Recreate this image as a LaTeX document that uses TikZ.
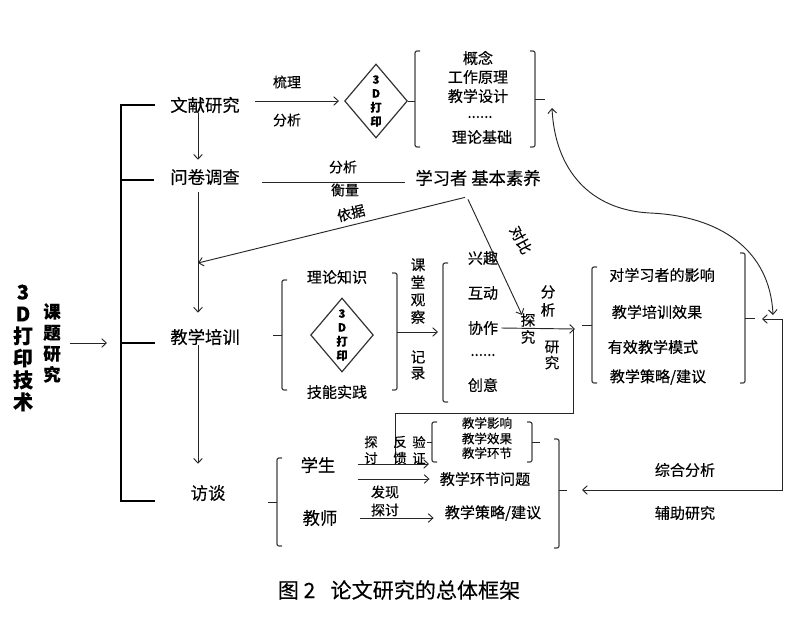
\documentclass[tikz,border=0pt]{standalone}
\usepackage{fontspec}
\setmainfont{Noto Sans CJK SC}[FakeBold=0.25]
\usetikzlibrary{arrows.meta,shapes.geometric,calc}
\newcommand\fsz[2]{\fontsize{#1pt}{#2pt}\selectfont}
\begin{document}
\begin{tikzpicture}[x=0.75pt,y=-0.75pt,
  main/.style={font=\fsz{13}{15},inner sep=0pt},
  lab/.style={font=\fsz{10.5}{12},inner sep=0pt},
  item/.style={font=\fsz{11.3}{13},inner sep=0pt},
  sitem/.style={font=\fsz{9.4}{11},inner sep=0pt},
  vt/.style={align=center,inner sep=0pt},
  ln/.style={line width=0.7pt,draw=black!85},
  arr/.style={ln,-{Straight Barb[length=3.5pt,width=6.5pt]}},
  arrb/.style={ln,{Straight Barb[length=3.5pt,width=6.5pt]}-{Straight Barb[length=3.5pt,width=6.5pt]}},
  brk/.style={line width=0.9pt,draw=black!75,rounded corners=1.5pt},
  mainbrk/.style={line width=1.6pt,draw=black},
  dia/.style={diamond,draw=black!80,line width=0.9pt,inner sep=0pt,minimum width=43.5pt,minimum height=55.5pt,font=\bfseries\fsz{8.5}{10.5},align=center}]
\useasboundingbox (0,0) rectangle (800,643);

% left titles
\node[vt,font=\bfseries\fsz{15}{16.5}] (t3d) at (23,348) {3\\D\\打\\印\\技\\术};
\node[vt,font=\bfseries\fsz{13}{15.75}] (kt) at (52,343) {课\\题\\研\\究};
\coordinate (mb) at (121,343);
\draw[arr] ($(kt.east)+(9,0)$) -- ($(mb)+(-14,0)$);

% main bracket
\coordinate (mbt) at (121,105);
\coordinate (mbb) at (121,501);
\draw[mainbrk] (155,105) -- (mbt) -- (mbb) -- (155,501);
\draw[mainbrk] (121,180) -- (154,180);
\draw[mainbrk] (mb) -- (155,343);

% main nodes
\node[main] (wx) at (205,105) {文献研究};
\node[main] (wj) at (205,177) {问卷调查};
\node[main] (jx) at (205,337) {教学培训};
\node[main] (ft) at (208,493) {访谈};
\coordinate (ax) at (198,0);
\draw[arr] (wx.south -| ax) -- ($(wj.north -| ax)+(0,-9)$);
\draw[arr] ($(wj.south -| ax)+(0,7)$) -- ($(jx.north -| ax)+(0,-16)$);
\draw[arr] (jx.south -| ax) -- ($(ft.north -| ax)+(0,-21)$);

% literature part
\node[lab] (sl) at (287,82) {梳理};
\node[lab] (fx0) at (287,120) {分析};
\node[dia] (d1) at (376,101) {3\\D\\打\\印};
\coordinate (a1) at ($(wx.east)+(15,0)$);
\draw[arr] (a1 |- d1.west) -- ($(d1.west)+(-5,0)$);
\coordinate (b1l) at (415,101);
\draw[ln] (d1.east) -- (b1l);
\draw[brk] (420,51) -- (415,51) -- (415,147) -- (420,147);
\node[item] (l1) at (478,58) {概念};
\node[item] (l2) at (478,77) {工作原理};
\node[item] (l3) at (478,96) {教学设计};
\node[item] (l4) at (480,117) {......};
\node[item] (l5) at (482,137) {理论基础};
\draw[brk] (530,51) -- (535,51) -- (535,147) -- (530,147);
\coordinate (b1r) at (545,99);
\draw[ln] (535,99) -- (b1r);
\coordinate (cv1) at (552,108);
\coordinate (cv2) at (773,315);
\draw[arrb] (cv1) .. controls (555,170) and (590,210) .. (650,213) .. controls (720,216) and (770,250) .. (cv2);

% questionnaire
\node[main] (xx) at (478,178) {学习者 基本素养};
\draw[ln] ($(wj.east)+(22,5)$) -- ($(xx.west)+(-10,4)$);
\node[lab] (fx1) at (343,167) {分析};
\node[lab] (hl) at (345,190) {衡量};
\node[lab,rotate=14] (yj) at (351,213) {依据};
\coordinate (c1) at (198,263);
\draw[arr] ($(xx.south)+(-13,11)$) -- (c1);
\node[lab,font=\fsz{11}{12},rotate=-62] (db) at (521,240) {对比};

% training
\draw[brk] (287,280) -- (282,280) -- (282,390) -- (287,390);
\draw[ln] (273,335) -- (282,335);
\node[item] (ll) at (337,277) {理论知识};
\node[item] (jn) at (337,392) {技能实践};
\node[dia] (d2) at (342,335) {3\\D\\打\\印};
\draw[brk] (392,273) -- (397,273) -- (397,390) -- (392,390);
\coordinate (b2r) at (397,332);
\coordinate (b3l) at (443,332);
\draw[arr] (b2r) -- ($(b3l)+(-5,0)$);
\node[vt,font=\fsz{11}{13.1}] (kg) at (418,291) {课\\堂\\观\\察};
\node[vt,font=\fsz{11}{12}] (jl) at (418,365) {记\\录};
\draw[brk] (448,263) -- (443,263) -- (443,402) -- (448,402);
\node[item] (i1) at (483,258) {兴趣};
\node[item] (i2) at (483,293) {互动};
\node[item] (i3) at (483,328) {协作};
\node[item] (i4) at (483,355) {......};
\node[item] (i5) at (483,385) {创意};
\node[vt,font=\fsz{11}{13.5}] (fx2) at (548,301) {分\\析};
\node[vt,font=\fsz{11}{12.75}] (tj) at (528,328.5) {探\\究};
\node[vt,font=\fsz{11}{12}] (yj2) at (552,355) {研\\究};
\draw[arr] ($(xx.south)+(-10,13)$) -- ($(tj.north)+(-6,2)$);
\coordinate (r0) at (575,329);
\draw[arr] ($(i3.east)+(3,0)$) -- (r0);
\coordinate (fb1) at (573,329);
\coordinate (fb2) at (395,465);
\draw[ln] (fb1) -- (573,413) -- (395,413) -- (fb2);

% results
\draw[brk] (597,267) -- (592,267) -- (592,383) -- (597,383);
\draw[ln] (582,325) -- (592,325);
\node[item] (r1) at (662,275) {对学习者的影响};
\node[item] (r2) at (657,312) {教学培训效果};
\node[item] (r3) at (653,347) {有效教学模式};
\node[item] (r4) at (658,377) {教学策略/建议};
\draw[brk] (740,253) -- (745,253) -- (745,383) -- (740,383);
\draw[ln] (745,318) -- (755,318);
\coordinate (lp1) at (762,319);
\coordinate (lp2) at (582,490);
\draw[arrb] (lp1) -- (782,319) -- (782,490) -- (lp2);
\node[item] (zh) at (685,470) {综合分析};
\node[item] (fz) at (685,513) {辅助研究};

% interview
\draw[brk] (282,458) -- (277,458) -- (277,546) -- (282,546);
\draw[ln] (268,502) -- (277,502);
\node[main] (xs) at (318,465) {学生};
\node[main] (js) at (320,518) {教师};
\node[vt,font=\fsz{10}{12}] (tt) at (371,450) {探\\讨};
\node[vt,font=\fsz{10}{12}] (fk) at (400,450) {反\\馈};
\node[vt,font=\fsz{10}{12}] (yz) at (419,450) {验\\证};
\draw[brk] (437,422) -- (432,422) -- (432,462) -- (437,462);
\draw[ln] (427,442) -- (432,442);
\node[sitem] (s1) at (487,423) {教学影响};
\node[sitem] (s2) at (487,438.5) {教学效果};
\node[sitem] (s3) at (487,453) {教学环节};
\draw[brk] (527,422) -- (532,422) -- (532,462) -- (527,462);
\draw[ln] (532,442) -- (540,442);
\node[item] (wt) at (485,479) {教学环节问题};
\node[item] (cl) at (493,513) {教学策略/建议};
\coordinate (sb) at (429,464);
\draw[arr] ($(xs.east)+(22,-1)$) -- (sb);
\draw[arr] ($(xs.east)+(22,14)$) -- ($(wt.west)+(-10,0)$);
\draw[arr] ($(js.east)+(22,0)$) -- ($(cl.west)+(-11,5)$);
\node[lab] (fx3) at (385,492) {发现};
\node[lab] (tt2) at (385,510) {探讨};
\draw[brk] (554,439) -- (559,439) -- (559,548) -- (554,548);
\draw[ln] (559,490) -- (567,490);

% caption
\node[font=\fsz{15.8}{18},inner sep=0pt] (cap) at (399,590) {图 2\enspace\ 论文研究的总体框架};
\end{tikzpicture}
\end{document}
